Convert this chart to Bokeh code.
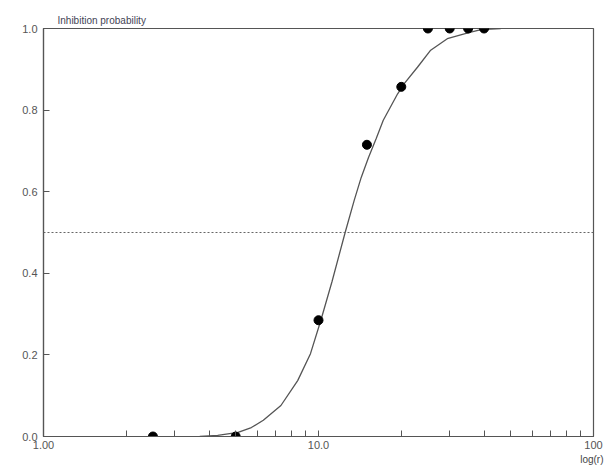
from bokeh.plotting import figure
from bokeh.models import FixedTicker, Span, Title
from bokeh.embed import file_html
from bokeh.resources import INLINE

# observed data points
dose = [2.5, 5.0, 10.0, 15.0, 20.0, 25.0, 30.0, 35.0, 40.0]
prob = [0.0, 0.0, 0.285, 0.715, 0.857, 1.0, 1.0, 1.0, 1.0]

# fitted curve
curve_x = [3.7, 4.3, 5.1, 5.7, 6.3, 7.3, 8.4, 9.35, 10.2, 11.2, 12.5, 13.5, 14.3,
           15.2, 16.2, 17.2, 19.4, 20.5, 22.9, 25.5, 29.4, 35.2, 39.0, 46.0]
curve_y = [0.0, 0.003, 0.01, 0.022, 0.04, 0.076, 0.137, 0.203, 0.285, 0.38, 0.5,
           0.58, 0.635, 0.684, 0.73, 0.775, 0.84, 0.865, 0.905, 0.946, 0.975,
           0.99, 0.997, 1.0]

x_major = [1, 10, 100]
x_labels = {1: "1.00", 10: "10.0", 100: "100"}
x_minor = [2, 3, 4, 5, 6, 7, 8, 9, 20, 30, 40, 50, 60, 70, 80, 90]
y_ticks = [0.0, 0.2, 0.4, 0.6, 0.8, 1.0]
y_labels = {0: "0.0", 0.2: "0.2", 0.4: "0.4", 0.6: "0.6", 0.8: "0.8", 1: "1.0"}

FONT = "Liberation Sans"

p = figure(width=605, height=471, x_axis_type="log", x_range=(1, 100), y_range=(0, 1),
           output_backend="svg", toolbar_location=None,
           min_border_left=43, min_border_right=12, min_border_top=28, min_border_bottom=35)
p.title.text = "Inhibition probability"
p.title.align = "left"
p.title.offset = 14
p.title.text_font = FONT
p.title.text_font_size = "10px"
p.title.text_font_style = "normal"
p.title.text_color = "#444455"
p.title.standoff = 6

p.add_layout(Title(text="log(r)", align="right", offset=-10, text_font=FONT,
                   text_font_size="10px", text_font_style="normal",
                   text_color="#444444", standoff=0), "below")

p.background_fill_color = "white"
p.border_fill_color = "white"
p.grid.visible = False
p.outline_line_color = "#555555"
p.outline_line_width = 1.2

AX = "#555555"
TXT = "#555555"

p.xaxis.ticker = FixedTicker(ticks=x_major, minor_ticks=x_minor)
p.xaxis.major_label_overrides = x_labels
p.yaxis.ticker = FixedTicker(ticks=y_ticks)
p.yaxis.major_label_overrides = y_labels

for ax in (p.xaxis[0], p.yaxis[0]):
    ax.axis_line_color = AX
    ax.axis_line_width = 1.2
    ax.major_tick_line_color = AX
    ax.minor_tick_line_color = AX
    ax.major_tick_in = 6
    ax.major_tick_out = 0
    ax.minor_tick_in = 6
    ax.minor_tick_out = 0
    ax.major_label_text_color = TXT
    ax.major_label_text_font = FONT
    ax.major_label_text_font_size = "11px"
p.yaxis.minor_tick_line_color = None
p.yaxis.major_label_standoff = 6
p.xaxis.major_label_standoff = 4

p.add_layout(Span(location=0.5, dimension="width", line_color="#666666",
                  line_dash="2 2", line_width=1))

p.line(curve_x, curve_y, line_color="#555555", line_width=1.3)
p.scatter(dose, prob, size=9, color="black")

open("out.html", "w").write(file_html(p, INLINE))
